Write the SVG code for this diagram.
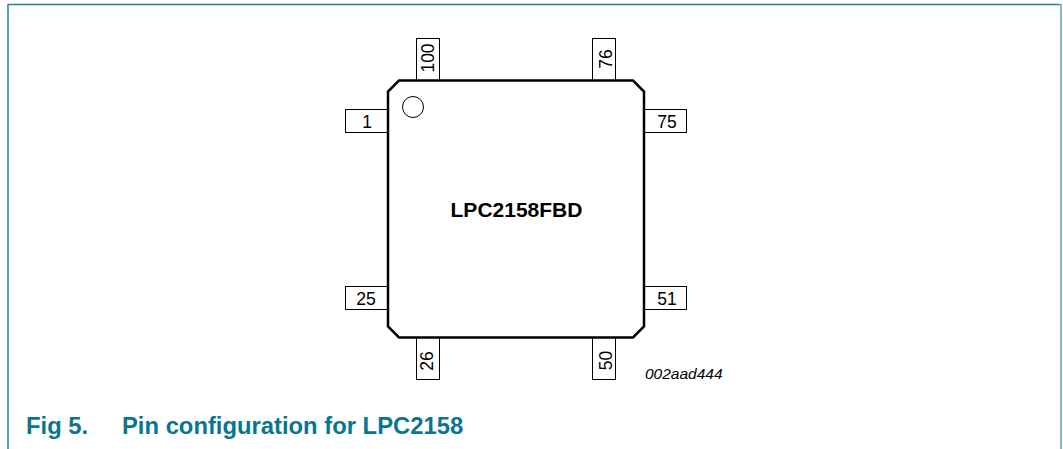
<svg xmlns="http://www.w3.org/2000/svg" width="1063" height="449" viewBox="0 0 1063 449">
<style>
.pin{fill:#fff;stroke:#000;stroke-width:1}
.pl{font-family:"Liberation Sans",Arial,sans-serif;font-size:17.5px;fill:#000;text-anchor:middle}
.cap{font-family:"Liberation Sans",Arial,sans-serif;font-size:23.8px;font-weight:bold;fill:#0b7490}
</style>
<rect width="1063" height="449" fill="#fff"/>
<g id="frame">
<line x1="8" y1="4.5" x2="1061" y2="4.5" stroke="#1f8497" stroke-width="1.5"/>
<line x1="8" y1="4" x2="8" y2="449" stroke="#1f8497" stroke-width="1.5"/>
<line x1="1061" y1="4" x2="1061" y2="449" stroke="#7fbcc6" stroke-width="2"/>
</g>
<g id="pins">
<g id="pin1"><rect class="pin" x="345.5" y="109.5" width="43" height="23"/><text class="pl" x="367" y="127.5">1</text></g>
<g id="pin25"><rect class="pin" x="345.5" y="286.5" width="43" height="23"/><text class="pl" x="366" y="304.5">25</text></g>
<g id="pin75"><rect class="pin" x="643.5" y="109.5" width="43" height="23"/><text class="pl" x="667" y="127.5">75</text></g>
<g id="pin51"><rect class="pin" x="643.5" y="286.5" width="43" height="23"/><text class="pl" x="667" y="304.5">51</text></g>
<g id="pin100"><rect class="pin" x="416.5" y="38.5" width="23" height="43"/><text class="pl" transform="translate(433.5,58) rotate(-90)">100</text></g>
<g id="pin76"><rect class="pin" x="592.5" y="38.5" width="23" height="43"/><text class="pl" transform="translate(611.5,59) rotate(-90)">76</text></g>
<g id="pin26"><rect class="pin" x="416.5" y="336.5" width="23" height="43"/><text class="pl" transform="translate(432.5,361) rotate(-90)">26</text></g>
<g id="pin50"><rect class="pin" x="592.5" y="336.5" width="23" height="43"/><text class="pl" transform="translate(612,360.5) rotate(-90)">50</text></g>
</g>
<g id="chip">
<polygon points="399,80.5 633,80.5 644,91.5 644,326.5 633,337.5 399,337.5 388,326.5 388,91.5" fill="#fff" stroke="#000" stroke-width="2.5"/>
<circle cx="413" cy="107" r="10.5" fill="none" stroke="#000" stroke-width="1"/>
<text x="516.5" y="217" font-family="'Liberation Sans',Arial,sans-serif" font-size="21" font-weight="bold" text-anchor="middle">LPC2158FBD</text>
</g>
<text x="645" y="379" font-family="'Liberation Sans',Arial,sans-serif" font-size="15.5" font-style="italic">002aad444</text>
<text class="cap" x="26" y="434">Fig 5.</text>
<text class="cap" x="122" y="434">Pin configuration for LPC2158</text>
</svg>
